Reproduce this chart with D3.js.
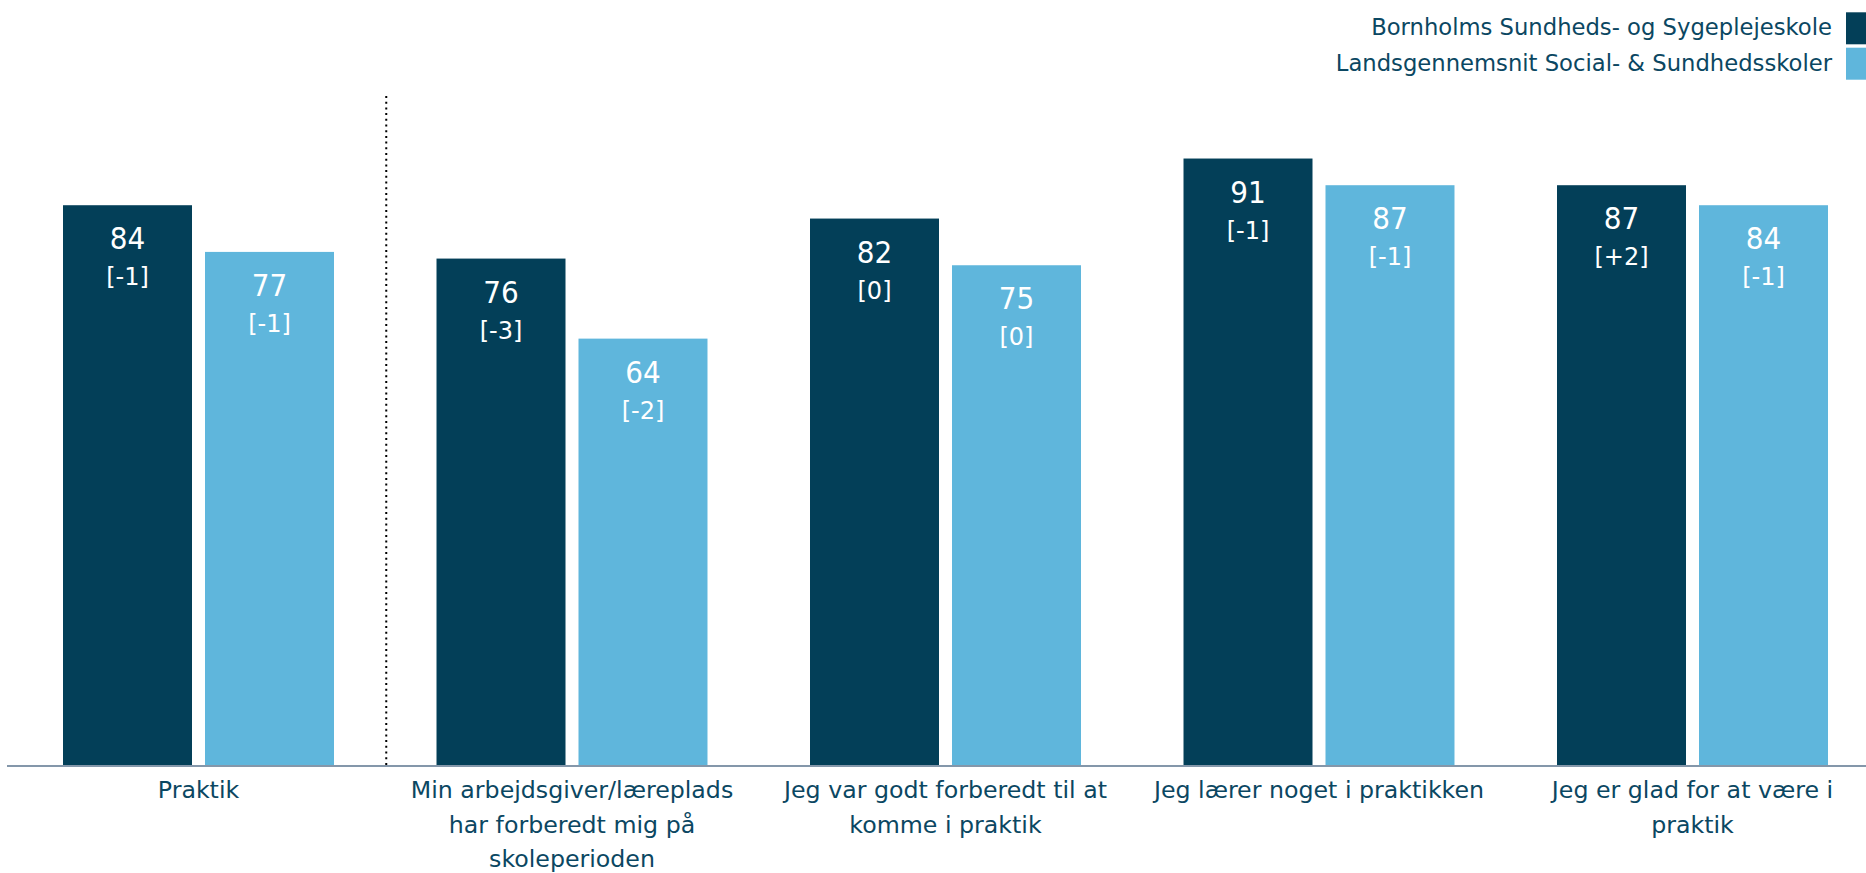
<!DOCTYPE html>
<html>
<head>
<meta charset="utf-8">
<script src="https://cdn.jsdelivr.net/npm/d3@7"></script>
<style>
  body { margin: 0; background: #fff; }
  svg { display: block; font-family: "DejaVu Sans", sans-serif; }
  .value { font-family: "DejaVu Sans Condensed", "DejaVu Sans", sans-serif; }
</style>
</head>
<body>
<svg width="1866" height="873"></svg>
<script>
// Categories (x-axis labels, "\n" marks line breaks as in the reference)
var categories = [
  "Praktik",
  "Min arbejdsgiver/læreplads\nhar forberedt mig på\nskoleperioden",
  "Jeg var godt forberedt til at\nkomme i praktik",
  "Jeg lærer noget i praktikken",
  "Jeg er glad for at være i\npraktik"
];

// Series names
var seriesNames = [
  "Bornholms Sundheds- og Sygeplejeskole",
  "Landsgennemsnit Social- & Sundhedsskoler"
];

// Series values
var schoolValues = [84, 76, 82, 91, 87];
var nationalValues = [77, 64, 75, 87, 84];

// Change since last measurement (shown in brackets)
var schoolChange = ["[-1]", "[-3]", "[0]", "[-1]", "[+2]"];
var nationalChange = ["[-1]", "[-2]", "[0]", "[-1]", "[-1]"];

var colors = ["#033f58", "#5fb6dc"];
var textColor = "#0b4762";

var svg = d3.select("svg");

// Scales
var x0 = d3.scaleBand()
  .domain(categories)
  .range([11.75, 1879.25]);

var x1 = d3.scaleBand()
  .domain(seriesNames)
  .range([0, x0.bandwidth()])
  .paddingInner(13 / 142)
  .paddingOuter(0.361);

var y = d3.scaleLinear()
  .domain([0, 100])
  .range([765.5, 98.5]);

// Build rows for the grouped bars
var rows = categories.map(function (c, i) {
  return {
    category: c,
    bars: [
      { series: seriesNames[0], value: schoolValues[i], change: schoolChange[i], k: 0 },
      { series: seriesNames[1], value: nationalValues[i], change: nationalChange[i], k: 1 }
    ]
  };
});

var groups = svg.append("g")
  .selectAll("g")
  .data(rows)
  .enter()
  .append("g")
  .attr("transform", function (d) { return "translate(" + x0(d.category) + ",0)"; });

var bar = groups.selectAll("g")
  .data(function (d) { return d.bars; })
  .enter()
  .append("g");

bar.append("rect")
  .attr("x", function (d) { return x1(d.series); })
  .attr("y", function (d) { return y(d.value); })
  .attr("width", x1.bandwidth())
  .attr("height", function (d) { return y(0) - y(d.value); })
  .style("fill", function (d) { return colors[d.k]; });

// Value labels inside the bars
bar.append("text")
  .attr("class", "value")
  .attr("x", function (d) { return x1(d.series) + x1.bandwidth() / 2; })
  .attr("y", function (d) { return y(d.value) + 44; })
  .attr("text-anchor", "middle")
  .style("fill", "#fff")
  .style("font-size", "31px")
  .text(function (d) { return d.value; });

bar.append("text")
  .attr("x", function (d) { return x1(d.series) + x1.bandwidth() / 2; })
  .attr("y", function (d) { return y(d.value) + 80; })
  .attr("text-anchor", "middle")
  .style("fill", "#fff")
  .style("font-size", "24px")
  .text(function (d) { return d.change; });

// Dotted separator after the first (summary) group
var sepX = x0(categories[1]) + 1;
svg.append("line")
  .attr("x1", sepX)
  .attr("x2", sepX)
  .attr("y1", 96)
  .attr("y2", y(0))
  .style("stroke", "#000")
  .style("stroke-width", 2)
  .style("stroke-dasharray", "2,3.7");

// Baseline
svg.append("line")
  .attr("x1", 7)
  .attr("x2", 1866)
  .attr("y1", y(0) + 0.5)
  .attr("y2", y(0) + 0.5)
  .style("stroke", "#8497aa")
  .style("stroke-width", 2);

// X axis with wrapped labels
var xAxis = svg.append("g")
  .attr("transform", "translate(0," + (y(0) + 1) + ")")
  .call(d3.axisBottom(x0).tickSize(0).tickFormat(""));

xAxis.select(".domain").remove();

xAxis.selectAll(".tick text").each(function (d) {
  var t = d3.select(this)
    .attr("y", 0)
    .attr("dy", null)
    .style("fill", textColor)
    .style("font-family", "'DejaVu Sans', sans-serif")
    .style("font-size", "23.7px");
  d.split("\n").forEach(function (line, i) {
    t.append("tspan")
      .attr("x", 0)
      .attr("y", 31.5 + i * 34.5)
      .text(line);
  });
});

// Legend
var legend = svg.append("g")
  .selectAll("g")
  .data(seriesNames)
  .enter()
  .append("g")
  .attr("transform", function (d, i) { return "translate(0," + (12.3 + i * 35.4) + ")"; });

legend.append("rect")
  .attr("x", 1846)
  .attr("width", 22)
  .attr("height", 32)
  .style("fill", function (d, i) { return colors[i]; });

legend.append("text")
  .attr("x", 1832)
  .attr("y", 23)
  .attr("text-anchor", "end")
  .style("fill", textColor)
  .style("font-size", "22.7px")
  .text(function (d) { return d; });
</script>
</body>
</html>
